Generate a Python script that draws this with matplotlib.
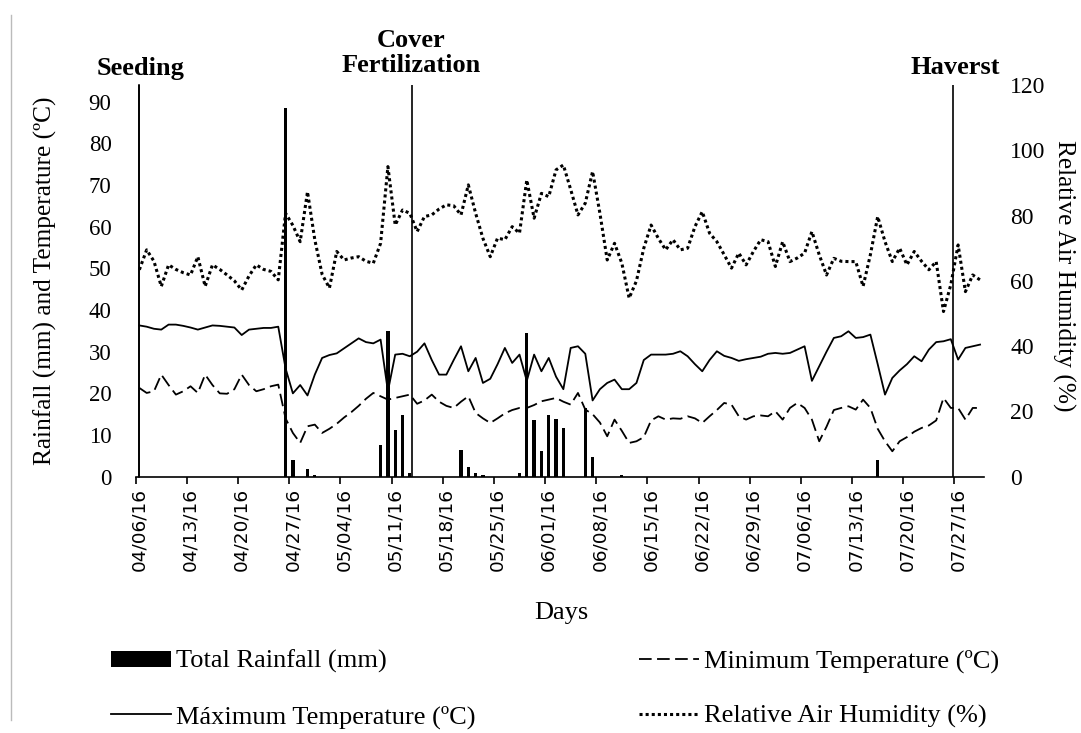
import matplotlib
matplotlib.use('Agg')
import matplotlib.pyplot as plt
import numpy as np
import pandas as pd

# ---------------- data ----------------
dates = pd.date_range('2016-04-06', '2016-07-30', freq='D')

rain = [0, 0, 0, 0, 0, 0, 0, 0, 0, 0,
        0, 0, 0, 0, 0, 0, 0, 0, 0, 0,
        88.5, 4.0, 0, 1.8, 0.5, 0, 0, 0, 0, 0,
        0, 0, 0, 7.5, 35.0, 11.3, 14.7, 0.8, 0, 0,
        0, 0, 0, 0, 6.3, 2.3, 0.8, 0.5, 0, 0,
        0, 0, 0.8, 34.5, 13.5, 6.2, 14.7, 13.9, 11.6, 0,
        0, 16.5, 4.7, 0, 0, 0, 0.3, 0, 0, 0,
        0, 0, 0, 0, 0, 0, 0, 0, 0, 0,
        0, 0, 0, 0, 0, 0, 0, 0, 0, 0,
        0, 0, 0, 0, 0, 0, 0, 0, 0, 0,
        0, 4.0, 0, 0, 0, 0, 0, 0, 0, 0,
        0, 0, 0, 0, 0, 0]

tmax = [36.3, 36.0, 35.5, 35.3, 36.5, 36.5, 36.2, 35.8, 35.3, 35.8,
        36.3, 36.2, 36.0, 35.8, 34.0, 35.3, 35.5, 35.7, 35.7, 36.0,
        26.0, 20.0, 22.0, 19.5, 24.5, 28.5, 29.2, 29.6, 30.8, 32.0,
        33.2, 32.3, 32.0, 32.9, 20.5, 29.3, 29.5, 28.9, 30.0, 32.0,
        28.0, 24.5, 24.5, 28.0, 31.3, 25.3, 28.5, 22.5, 23.5, 27.0,
        30.9, 27.3, 29.3, 23.0, 29.3, 25.3, 28.5, 24.0, 21.0, 30.9,
        31.3, 29.5, 18.3, 21.0, 22.5, 23.3, 21.0, 21.0, 22.5, 28.0,
        29.3, 29.3, 29.3, 29.5, 30.1, 28.9, 27.0, 25.3, 28.0, 30.1,
        29.0, 28.5, 27.8, 28.2, 28.5, 28.8, 29.5, 29.7, 29.5, 29.7,
        30.5, 31.3, 23.0, 26.5, 30.0, 33.3, 33.7, 34.9, 33.3, 33.5,
        34.1, 27.0, 19.7, 23.7, 25.5, 27.0, 28.9, 27.7, 30.5, 32.3,
        32.5, 33.0, 28.1, 30.9, 31.3, 31.7]

tmin = [21.3, 20.1, 20.5, 24.5, 22.0, 19.7, 20.5, 21.7, 20.1, 24.5,
        22.0, 20.0, 19.9, 21.0, 24.5, 22.0, 20.5, 21.0, 21.7, 22.1,
        14.0, 10.5, 8.1, 12.1, 12.5, 10.5, 11.5, 12.7, 14.2, 15.5,
        17.0, 18.7, 20.1, 19.3, 18.5, 18.9, 19.3, 19.7, 17.5, 18.3,
        19.7, 18.0, 17.0, 16.5, 18.0, 19.3, 15.3, 14.0, 12.9, 14.0,
        15.2, 16.0, 16.5, 16.5, 17.2, 18.1, 18.5, 18.9, 18.0, 17.3,
        20.1, 16.1, 15.0, 13.0, 9.7, 13.7, 11.0, 8.1, 8.5, 9.5,
        13.5, 14.5, 13.7, 14.0, 13.9, 14.5, 14.0, 12.9, 14.5, 16.0,
        17.7, 17.3, 14.5, 13.7, 14.5, 14.7, 14.5, 15.7, 13.7, 16.5,
        17.7, 16.5, 13.7, 8.5, 12.0, 16.0, 16.5, 16.9, 16.1, 18.5,
        16.5, 11.5, 8.5, 6.1, 8.5, 9.5, 10.8, 11.7, 12.3, 13.5,
        18.9, 16.5, 16.5, 13.7, 16.5, 16.5]

rh = [63.4, 69.5, 66.0, 58.3, 64.9, 63.5, 62.5, 61.8, 67.4, 58.3,
      64.9, 63.5, 61.8, 60.0, 57.2, 61.5, 64.9, 63.5, 62.9, 60.3,
      80.7, 77.0, 72.0, 87.3, 72.6, 62.0, 57.8, 69.0, 66.4, 67.0,
      67.4, 66.0, 65.4, 71.5, 95.0, 77.1, 81.7, 80.7, 75.1, 79.7,
      80.2, 82.0, 83.3, 83.0, 80.2, 89.4, 80.7, 73.0, 67.4, 73.1,
      72.6, 76.6, 74.6, 90.9, 79.2, 86.8, 85.8, 94.0, 95.5, 88.0,
      80.2, 83.8, 93.5, 80.7, 66.4, 71.5, 65.4, 54.7, 60.0, 70.0,
      77.1, 73.0, 69.5, 72.6, 69.5, 70.0, 76.6, 81.2, 74.6, 72.0,
      68.0, 63.9, 68.5, 64.9, 69.0, 72.6, 72.0, 64.4, 72.0, 65.9,
      67.0, 68.5, 75.1, 68.0, 61.8, 66.9, 66.0, 65.9, 65.9, 58.3,
      68.0, 79.7, 72.0, 65.9, 70.0, 64.9, 69.0, 66.0, 63.4, 65.9,
      50.6, 58.8, 71.0, 56.7, 61.8, 60.3]

events = ['Seeding', 'Cover\nFertilization', 'Haverst']
event_days = [0, 37.3, 111.3]

left_ticks = list(range(0, 91, 10))
right_ticks = list(range(0, 121, 20))

# ---------------- figure ----------------
W, H = 1081, 733
fig = plt.figure(figsize=(W / 100, H / 100), dpi=100)
serif = 'Liberation Serif'

ax_l, ax_r, ax_b, ax_t = 135.7, 983.7, 476.7, 85.0
ax = fig.add_axes([ax_l / W, 1 - ax_b / H, (ax_r - ax_l) / W, (ax_b - ax_t) / H])
ax2 = ax.twinx()

x = np.arange(len(dates))

bars = ax.bar(x, rain, width=0.45, color='black', label='Total Rainfall (mm)', zorder=2)
l_min, = ax.plot(x, tmin, color='black', lw=1.3, ls=(0, (7, 3)),
                 label='Minimum Temperature (ºC)', zorder=3)
l_max, = ax.plot(x, tmax, color='black', lw=1.3,
                 label='Máximum Temperature (ºC)', zorder=3)
l_rh, = ax2.plot(x, rh, color='black', lw=2.2, ls=(0, (1, 1)),
                 label='Relative Air Humidity (%)', zorder=3)

for d in event_days:
    ax.axvline(d, color='black', lw=1.2, zorder=1)

ax.set_xlim(-0.5, len(dates) - 0.5)
ax.set_ylim(0, 94)
ax2.set_ylim(0, 120)

# spines
for s in ['top', 'right']:
    ax.spines[s].set_visible(False)
for s in ax2.spines.values():
    s.set_visible(False)
ax.spines['left'].set_position(('data', 0))
ax.spines['left'].set_linewidth(1.2)
ax.spines['bottom'].set_linewidth(1.2)

# x ticks
major = x[::7]
ax.set_xticks(major)
ax.set_xticklabels([d.strftime('%m/%d/%y') for d in dates[::7]], rotation=90,
                   fontsize=13.3, family='DejaVu Sans')
ax.set_xticks(major - 0.5, minor=True)
ax.tick_params(axis='x', which='major', length=0, pad=8)
ax.tick_params(axis='x', which='minor', length=5, width=1.2, direction='out')

# y ticks
ax.set_yticks(left_ticks)
ax.set_yticklabels([str(v) for v in left_ticks], fontsize=16.5, family=serif)
ax.tick_params(axis='y', length=0, pad=20)
ax2.set_yticks(right_ticks)
ax2.set_yticklabels([str(v) for v in right_ticks], fontsize=17, family=serif)
ax2.tick_params(axis='y', length=0, pad=19)

# axis titles
fig.text(45 / W, 1 - 281 / H, 'Rainfall (mm) and Temperature (ºC)', rotation=90,
         ha='center', va='center', fontsize=18.3, family=serif)
fig.text(1064 / W, 1 - 276 / H, 'Relative Air Humidity (%)', rotation=-90,
         ha='center', va='center', fontsize=18.3, family=serif)
fig.text(561 / W, 1 - 613 / H, 'Days', ha='center', va='center', fontsize=19, family=serif)

# event labels
ev_pos = [(141, 68), (411, 53), (955, 68)]
for (px, py), lab in zip(ev_pos, events):
    fig.text(px / W, 1 - py / H, lab, ha='center', va='center', fontsize=19,
             family=serif, fontweight='bold', linespacing=1.12)

# legend
fig.legend([bars, l_max, l_min, l_rh],
           [bars.get_label(), l_max.get_label(), l_min.get_label(), l_rh.get_label()],
           loc='upper left', bbox_to_anchor=(111 / W, 1 - 650 / H), ncol=2,
           frameon=False, prop={'family': serif, 'size': 19},
           handlelength=2.27, handleheight=0.55, handletextpad=0.2, columnspacing=6.2,
           labelspacing=1.2, borderaxespad=0, borderpad=0)

# left border line of the original image
fig.add_artist(plt.Line2D([11 / W, 11 / W], [1 - 720 / H, 1 - 15 / H],
                          color='#bbbbbb', lw=1.0))

fig.savefig('out.png', dpi=100)
